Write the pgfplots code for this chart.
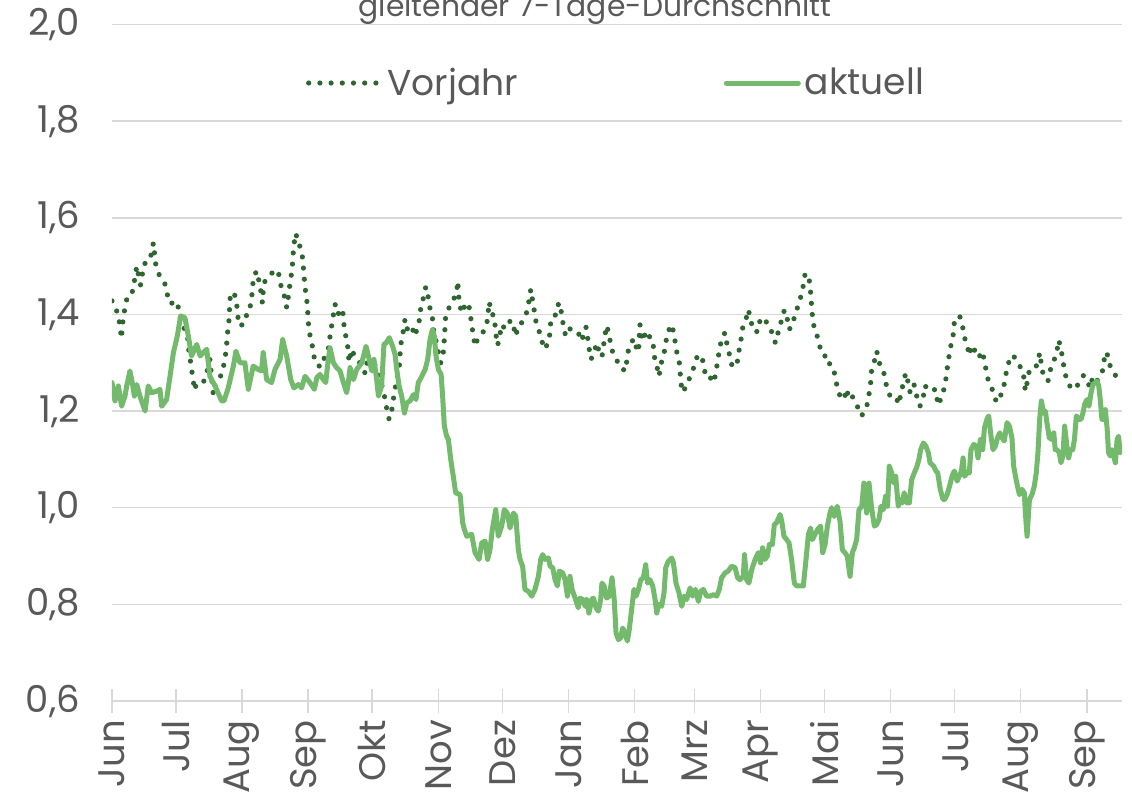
\documentclass[border=0pt]{standalone}
\usepackage{fontspec}
\setmainfont{Poppins}
\usepackage{pgfplots}
\pgfplotsset{compat=1.18}
\usetikzlibrary{calc}
\definecolor{vj}{HTML}{2F6630}
\definecolor{ak}{HTML}{73BA6C}
\definecolor{gridc}{HTML}{D9D9D9}
\definecolor{txt}{HTML}{595959}
\begin{document}
\begin{tikzpicture}
\begin{axis}[
  scale only axis, width=505pt, height=338.25pt,
  xmin=0, xmax=473.5, ymin=0.6, ymax=2.0,
  ytick={0.6,0.8,1.0,1.2,1.4,1.6,1.8,2.0},
  xtick={0,30,61,92,122,153,183,214,245,273,304,334,365,395,426,457},
  xticklabels={Jun,Jul,Aug,Sep,Okt,Nov,Dez,Jan,Feb,Mrz,Apr,Mai,Jun,Jul,Aug,Sep},
  axis x line*=bottom, axis y line*=left,
  x axis line style={draw=gridc, line width=0.75pt, -},
  y axis line style={draw=none},
  ymajorgrids, grid style={draw=gridc, line width=0.75pt},
  ytick style={draw=none},
  xtick style={draw=gridc, line width=0.75pt},
  xtick align=center,
  major tick length=12pt,
  tick label style={font=\fontsize{18.5}{20}\selectfont, text=txt},
  xticklabel style={rotate=90, anchor=east},
  yticklabel style={xshift=-12.5pt, /pgf/number format/fixed, /pgf/number format/fixed zerofill, /pgf/number format/precision=1, /pgf/number format/use comma},
  /pgf/number format/assume math mode=true,
  legend style={at={(0.5,0.9135)}, anchor=center, draw=none, fill=none, font=\fontsize{18}{20}\selectfont, text=txt, legend columns=2, /tikz/every even column/.append style={column sep=101pt}},
  legend image code/.code={\draw[#1] (0pt,0pt) -- (36pt,0pt);},
]
\addplot[vj, line width=2.6pt, line cap=round, line join=round, dash pattern=on 0pt off 5.6pt] coordinates {
(0.0,1.428)(1.6,1.416)(3.1,1.394)(3.9,1.372)(4.4,1.350)(5.2,1.390)(6.0,1.412)(6.9,1.431)(8.8,1.435)(10.0,1.455)
(10.8,1.478)(11.6,1.500)(13.4,1.461)(14.2,1.483)(15.2,1.505)(16.3,1.507)(17.5,1.510)(18.6,1.528)(19.4,1.548)(20.5,1.504)
(22.0,1.483)(24.5,1.468)(25.8,1.446)(26.6,1.424)(28.8,1.423)(30.8,1.426)(31.3,1.403)(32.7,1.383)(35.4,1.355)(35.8,1.332)
(36.6,1.309)(37.3,1.286)(38.1,1.265)(38.6,1.243)(39.7,1.257)(42.8,1.259)(44.4,1.279)(45.9,1.307)(47.5,1.234)(48.3,1.252)
(49.8,1.265)(51.4,1.276)(52.5,1.297)(53.3,1.319)(53.8,1.341)(54.2,1.363)(54.9,1.390)(55.3,1.431)(55.8,1.446)(57.7,1.439)
(58.4,1.424)(58.9,1.400)(59.5,1.377)(61.6,1.379)(62.7,1.390)(63.6,1.411)(64.7,1.414)(65.5,1.435)(65.9,1.459)(66.6,1.479)
(67.8,1.490)(68.9,1.469)(69.8,1.448)(70.5,1.424)(70.9,1.448)(71.7,1.469)(74.1,1.479)(75.9,1.492)(78.0,1.488)(78.8,1.466)
(79.5,1.455)(80.3,1.441)(81.3,1.435)(81.9,1.414)(82.7,1.438)(83.4,1.462)(84.2,1.486)(84.7,1.508)(85.0,1.530)(85.6,1.554)
(86.3,1.568)(86.9,1.548)(88.1,1.541)(89.2,1.521)(89.7,1.498)(90.1,1.476)(90.6,1.453)(91.3,1.431)(91.7,1.409)(92.0,1.386)
(92.5,1.363)(93.6,1.343)(94.4,1.322)(95.2,1.300)(97.8,1.291)(99.9,1.314)(101.8,1.334)(102.2,1.355)(103.0,1.377)(103.8,1.400)
(104.6,1.421)(105.8,1.400)(108.0,1.412)(108.6,1.390)(108.9,1.368)(110.0,1.348)(110.8,1.324)(111.1,1.301)(112.4,1.328)(112.8,1.321)
(114.7,1.312)(118.6,1.279)(119.4,1.300)(120.7,1.290)(121.8,1.310)(122.8,1.303)(124.1,1.283)(125.7,1.262)(127.2,1.245)(128.0,1.224)
(128.9,1.203)(129.9,1.183)(131.1,1.200)(131.9,1.224)(132.7,1.246)(133.8,1.272)(134.7,1.293)(135.0,1.314)(135.3,1.336)(136.3,1.357)
(136.9,1.379)(137.4,1.390)(138.5,1.369)(140.5,1.377)(141.8,1.355)(143.6,1.376)(144.4,1.397)(144.9,1.421)(146.1,1.435)(147.1,1.457)
(148.3,1.435)(149.1,1.412)(150.3,1.390)(150.7,1.369)(151.4,1.352)(152.2,1.341)(153.0,1.321)(154.1,1.300)(154.9,1.307)(155.5,1.328)
(156.1,1.372)(156.4,1.395)(158.0,1.414)(159.9,1.428)(161.6,1.448)(162.1,1.469)(162.7,1.428)(163.9,1.403)(165.5,1.419)(167.1,1.424)
(168.0,1.400)(168.6,1.379)(169.4,1.357)(170.2,1.334)(171.3,1.348)(173.8,1.362)(175.7,1.379)(176.9,1.426)(177.7,1.402)(179.3,1.397)
(179.6,1.376)(180.2,1.352)(180.8,1.336)(181.9,1.359)(182.7,1.379)(184.3,1.370)(186.9,1.388)(188.2,1.376)(189.3,1.355)(190.5,1.377)
(192.1,1.383)(193.9,1.397)(195.2,1.417)(195.7,1.439)(196.4,1.452)(197.2,1.428)(198.0,1.407)(198.8,1.384)(200.4,1.363)(201.8,1.341)
(203.0,1.328)(205.0,1.348)(205.4,1.370)(205.8,1.390)(207.7,1.395)(208.5,1.417)(210.0,1.424)(210.8,1.400)(211.6,1.377)(212.7,1.355)
(214.7,1.370)(217.1,1.369)(218.6,1.362)(220.2,1.345)(221.3,1.362)(222.2,1.374)(223.0,1.352)(223.6,1.331)(224.6,1.307)(226.0,1.324)
(227.5,1.341)(228.3,1.321)(229.7,1.312)(230.4,1.334)(231.1,1.357)(231.9,1.377)(233.2,1.357)(233.8,1.334)(235.0,1.319)(236.3,1.310)
(237.9,1.291)(240.8,1.283)(241.3,1.303)(242.1,1.326)(243.2,1.336)(244.4,1.350)(245.7,1.333)(246.8,1.322)(247.1,1.345)(247.5,1.379)
(248.3,1.355)(249.1,1.345)(250.2,1.365)(251.4,1.354)(252.5,1.354)(253.8,1.334)(254.3,1.312)(255.4,1.294)(256.4,1.272)(256.9,1.283)
(257.7,1.303)(258.8,1.319)(259.6,1.341)(260.5,1.363)(262.4,1.379)(263.5,1.359)(264.3,1.334)(265.0,1.317)(265.8,1.307)(266.3,1.286)
(266.6,1.262)(267.4,1.239)(269.1,1.250)(271.0,1.271)(272.9,1.292)(274.4,1.314)(276.4,1.315)(277.5,1.293)(278.3,1.271)(280.0,1.272)
(282.2,1.259)(283.8,1.299)(284.6,1.322)(285.4,1.341)(286.3,1.355)(287.4,1.362)(288.2,1.341)(289.3,1.321)(290.0,1.299)(291.8,1.290)
(293.2,1.303)(294.0,1.326)(294.9,1.348)(295.5,1.370)(297.1,1.388)(298.3,1.410)(300.2,1.374)(302.2,1.363)(303.5,1.386)(305.4,1.377)
(306.5,1.386)(308.8,1.372)(310.0,1.350)(311.1,1.341)(312.4,1.365)(313.9,1.388)(315.2,1.409)(316.6,1.390)(317.4,1.369)(319.0,1.376)
(319.9,1.395)(321.5,1.416)(323.0,1.438)(324.1,1.460)(324.9,1.483)(326.5,1.483)(327.2,1.460)(327.7,1.437)(328.0,1.414)(328.5,1.392)
(329.3,1.369)(330.4,1.359)(331.6,1.336)(333.5,1.314)(335.8,1.314)(336.6,1.293)(338.2,1.288)(339.4,1.264)(340.2,1.243)(341.8,1.227)
(343.2,1.224)(344.4,1.246)(345.5,1.224)(347.1,1.230)(349.4,1.210)(351.5,1.190)(352.5,1.200)(354.3,1.216)(355.0,1.238)(355.7,1.260)
(356.1,1.283)(357.4,1.303)(358.5,1.324)(360.0,1.296)(360.8,1.293)(362.4,1.271)(363.2,1.248)(365.0,1.229)(366.6,1.231)(367.9,1.224)
(369.1,1.214)(369.7,1.236)(371.0,1.257)(372.1,1.279)(373.0,1.264)(373.8,1.241)(374.9,1.238)(376.0,1.255)(377.2,1.232)(378.8,1.210)
(380.4,1.231)(381.1,1.253)(382.7,1.243)(383.7,1.241)(386.0,1.245)(386.8,1.225)(387.2,1.212)(389.1,1.230)(390.4,1.252)(391.2,1.274)
(391.8,1.297)(392.6,1.319)(393.5,1.341)(394.6,1.363)(394.9,1.386)(396.5,1.391)(397.4,1.397)(398.8,1.374)(399.7,1.352)(401.1,1.331)
(402.1,1.315)(402.7,1.336)(404.7,1.324)(406.3,1.310)(407.9,1.324)(409.1,1.303)(409.9,1.281)(411.0,1.260)(413.3,1.239)(414.6,1.218)
(416.5,1.231)(418.0,1.248)(418.8,1.271)(419.9,1.292)(421.2,1.314)(422.7,1.314)(425.1,1.296)(427.1,1.283)(427.7,1.261)(428.2,1.241)
(429.3,1.265)(430.1,1.286)(432.9,1.290)(434.1,1.300)(434.9,1.321)(435.7,1.296)(436.5,1.276)(438.8,1.262)(439.9,1.285)(441.5,1.303)
(443.0,1.324)(443.8,1.347)(444.9,1.329)(445.7,1.307)(446.5,1.285)(447.7,1.262)(449.3,1.250)(451.6,1.245)(453.7,1.262)(455.5,1.274)
(457.4,1.259)(458.7,1.248)(459.7,1.269)(461.0,1.259)(462.6,1.267)(464.1,1.276)(464.9,1.299)(465.7,1.321)(466.5,1.321)(467.2,1.299)
(469.6,1.283)(471.5,1.262)
};
\addlegendentry{Vorjahr}
\addplot[ak, line width=2.5pt, line join=round, line cap=round] coordinates {
(0,1.259)(1.4,1.221)(3.0,1.252)(4.5,1.210)(6.1,1.231)(6.9,1.252)(8.4,1.283)(9.5,1.259)(10.5,1.231)(11.6,1.255)
(13.1,1.231)(15.5,1.200)(17.0,1.252)(18.6,1.238)(20.9,1.241)(22.5,1.245)(23.3,1.210)(25.6,1.224)(27.2,1.272)(28.8,1.321)
(30.6,1.355)(32.2,1.397)(34.2,1.393)(35.8,1.355)(37.3,1.314)(39.7,1.338)(41.3,1.314)(44.4,1.328)(45.9,1.272)(48.3,1.252)
(51.4,1.221)(52.5,1.221)(54.5,1.248)(56.9,1.293)(58.1,1.324)(60.0,1.300)(62.3,1.300)(63.9,1.245)(66.2,1.293)(68.6,1.286)
(70.1,1.283)(70.9,1.321)(72.5,1.265)(74.8,1.259)(76.4,1.286)(78.8,1.307)(80.0,1.348)(81.9,1.314)(83.8,1.265)(85.3,1.248)
(87.4,1.255)(88.9,1.248)(90.5,1.272)(92.8,1.259)(94.9,1.245)(96.0,1.269)(97.5,1.276)(99.1,1.265)(100.2,1.259)(101.4,1.307)
(102.2,1.331)(103.8,1.300)(105.3,1.290)(106.9,1.283)(108.5,1.259)(110.0,1.238)(110.8,1.259)(111.6,1.290)(113.2,1.265)(114.7,1.286)
(117.1,1.300)(119.1,1.334)(120.2,1.314)(121.8,1.283)(122.8,1.307)(124.1,1.265)(124.9,1.231)(126.4,1.252)(127.5,1.338)(128.5,1.341)
(130.0,1.352)(131.6,1.334)(132.7,1.317)(133.5,1.286)(134.6,1.252)(135.8,1.231)(137.1,1.196)(138.2,1.217)(139.7,1.221)(141.3,1.234)
(142.5,1.224)(143.6,1.259)(144.9,1.269)(146.8,1.286)(148.0,1.307)(149.1,1.348)(150.2,1.369)(151.1,1.355)(151.9,1.314)(153.0,1.286)
(154.3,1.276)(155.0,1.231)(155.8,1.169)(156.9,1.148)(157.7,1.141)(158.8,1.100)(160.0,1.065)(161.1,1.031)(163.2,1.027)(164.4,0.969)
(165.2,0.955)(166.3,0.941)(168.6,0.945)(170.2,0.907)(172.1,0.893)(173.3,0.927)(174.9,0.931)(176.1,0.893)(177.2,0.913)(178.3,0.955)
(179.9,0.996)(181.1,0.941)(182.7,0.962)(183.9,0.996)(185.3,0.989)(186.6,0.958)(188.2,0.989)(189.3,0.982)(190.5,0.913)(191.3,0.893)
(192.5,0.879)(193.6,0.831)(195.2,0.827)(196.8,0.817)(198.3,0.831)(199.9,0.858)(201.0,0.893)(201.9,0.903)(203.0,0.893)(204.6,0.896)
(205.4,0.879)(206.6,0.876)(207.7,0.851)(208.8,0.838)(209.7,0.869)(211.3,0.865)(212.4,0.851)(213.5,0.817)(214.7,0.858)(215.7,0.831)
(217.1,0.813)(218.6,0.793)(219.4,0.813)(220.7,0.810)(221.8,0.796)(222.5,0.810)(223.6,0.782)(224.9,0.810)(225.7,0.813)(226.9,0.793)
(228.0,0.786)(229.1,0.810)(229.7,0.844)(230.7,0.838)(231.9,0.813)(233.2,0.817)(234.4,0.855)(235.4,0.813)(236.3,0.741)(237.4,0.727)
(238.5,0.731)(239.4,0.751)(240.5,0.741)(241.6,0.724)(242.5,0.748)(243.6,0.789)(244.7,0.831)(245.7,0.817)(246.8,0.831)(247.9,0.851)
(249.1,0.855)(250.2,0.882)(251.1,0.844)(252.2,0.851)(253.5,0.838)(254.6,0.810)(255.4,0.782)(256.4,0.800)(257.7,0.796)(258.8,0.824)
(259.6,0.876)(260.8,0.889)(262.4,0.896)(263.2,0.886)(264.4,0.844)(265.8,0.824)(267.1,0.796)(268.3,0.817)(269.4,0.810)(271.0,0.834)
(272.2,0.817)(273.5,0.831)(274.9,0.806)(276.0,0.827)(277.2,0.831)(278.8,0.817)(280.4,0.817)(281.9,0.820)(283.5,0.817)(284.7,0.831)
(285.8,0.855)(287.4,0.865)(288.9,0.869)(290.5,0.879)(292.1,0.876)(293.3,0.855)(294.4,0.851)(296.0,0.858)(296.5,0.903)(297.5,0.851)
(298.6,0.844)(299.9,0.872)(301.5,0.893)(303.0,0.907)(304.1,0.886)(305.0,0.917)(306.1,0.893)(307.2,0.900)(308.2,0.924)(309.6,0.924)
(310.5,0.965)(311.6,0.969)(313.2,0.986)(314.0,0.972)(315.0,0.941)(316.3,0.934)(317.4,0.927)(318.6,0.893)(319.9,0.844)(321.0,0.838)
(322.5,0.838)(324.1,0.838)(325.2,0.886)(326.5,0.945)(327.5,0.958)(328.3,0.934)(329.6,0.945)(330.8,0.955)(332.2,0.962)(333.2,0.907)
(334.3,0.924)(335.4,0.962)(336.6,0.989)(337.4,1.000)(338.6,0.982)(340.0,1.003)(341.3,0.972)(342.4,0.913)(343.6,0.907)(344.7,0.900)
(346.0,0.858)(347.1,0.907)(348.0,0.917)(349.1,0.934)(350.2,0.996)(351.5,1.003)(352.5,1.051)(353.8,0.989)(354.9,1.051)(356.1,1.000)
(357.4,0.962)(358.5,0.965)(359.6,0.976)(360.5,1.003)(361.6,0.996)(362.7,1.024)(363.6,1.003)(364.4,1.086)(365.5,1.072)(366.6,1.051)
(367.4,1.065)(368.6,1.003)(369.7,1.017)(370.5,1.010)(371.4,1.031)(372.5,1.010)(373.8,1.010)(374.9,1.058)(376.1,1.072)(377.2,1.083)
(378.3,1.100)(379.1,1.120)(380.4,1.134)(381.6,1.127)(382.7,1.114)(383.5,1.093)(385.2,1.086)(386.3,1.076)(387.1,1.072)(388.3,1.038)
(389.6,1.017)(390.4,1.017)(391.5,1.027)(392.7,1.045)(393.8,1.065)(394.9,1.076)(396.2,1.055)(397.2,1.065)(398.2,1.076)(399.0,1.103)
(399.7,1.065)(400.8,1.072)(401.9,1.072)(402.7,1.120)(404.0,1.131)(405.2,1.127)(406.0,1.103)(407.1,1.141)(408.2,1.120)(409.0,1.165)
(410.2,1.183)(411.0,1.190)(412.1,1.148)(413.0,1.120)(414.1,1.127)(415.2,1.145)(416.2,1.155)(417.2,1.145)(418.3,1.138)(419.6,1.176)
(420.7,1.169)(421.9,1.145)(422.7,1.086)(424.0,1.055)(425.4,1.027)(426.6,1.038)(427.7,1.031)(428.2,0.989)(429.0,0.941)(430.1,1.017)
(431.3,1.027)(432.4,1.045)(433.3,1.072)(434.1,1.114)(434.9,1.183)(435.7,1.221)(436.8,1.196)(437.6,1.200)(438.3,1.176)(439.4,1.145)
(440.7,1.141)(441.5,1.155)(442.2,1.120)(443.0,1.120)(444.1,1.114)(444.9,1.093)(445.8,1.107)(446.6,1.169)(447.7,1.127)(448.5,1.103)
(449.3,1.120)(450.4,1.120)(451.2,1.141)(452.1,1.190)(453.2,1.183)(454.3,1.183)(455.2,1.196)(456.0,1.214)(457.1,1.224)(458.0,1.210)
(459.0,1.238)(459.9,1.255)(461.0,1.259)(461.8,1.262)(462.6,1.252)(463.3,1.224)(464.1,1.183)(464.9,1.183)(465.7,1.203)(466.5,1.165)
(467.2,1.114)(468.0,1.107)(468.8,1.120)(469.6,1.107)(470.4,1.093)(471.2,1.141)(471.9,1.148)(472.6,1.114)
};
\addlegendentry{aktuell}
\end{axis}
\node[anchor=base, font=\fontsize{14.9}{16}\selectfont, text=txt] at ($(current axis.north west)+(241.5pt,3.75pt)$) {gleitender 7-Tage-Durchschnitt};
\pgfresetboundingbox
\path[use as bounding box] ($(current axis.south west)+(-56pt,-49pt)$) rectangle ($(current axis.north east)+(5pt,12.25pt)$);
\end{tikzpicture}
\end{document}
